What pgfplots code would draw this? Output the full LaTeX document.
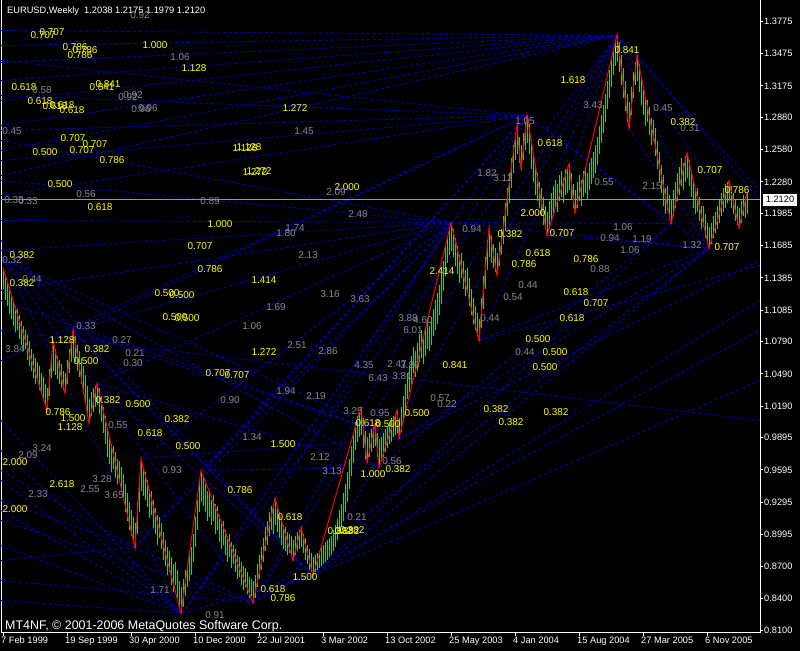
\documentclass[border=0pt]{standalone}
\usepackage{pgfplots}
\pgfplotsset{compat=1.18}
\usepackage{pgfplotstable}
\usepackage{fontspec}
\setmainfont{Liberation Sans}
\definecolor{barcol}{RGB}{50,205,50}
\definecolor{fibblue}{RGB}{0,0,195}
\definecolor{lblgray}{RGB}{135,135,155}
\definecolor{lblyel}{RGB}{255,255,0}
\definecolor{pline}{RGB}{150,150,150}

\pgfplotstableread{
w lo hi
0 1.128 1.148
1 1.118 1.142
2 1.112 1.135
3 1.105 1.130
4 1.100 1.122
5 1.094 1.118
6 1.088 1.112
7 1.090 1.110
8 1.082 1.104
9 1.076 1.098
10 1.070 1.094
11 1.072 1.090
12 1.062 1.085
13 1.056 1.080
14 1.052 1.072
15 1.045 1.068
16 1.040 1.064
17 1.042 1.060
18 1.034 1.056
19 1.030 1.050
20 1.024 1.046
21 1.020 1.040
22 1.015 1.036
23 1.028 1.054
24 1.045 1.068
25 1.052 1.080
26 1.048 1.072
27 1.044 1.066
28 1.040 1.062
29 1.036 1.058
30 1.034 1.052
31 1.031 1.050
32 1.040 1.062
33 1.050 1.072
34 1.060 1.082
35 1.064 1.090
36 1.060 1.084
37 1.052 1.076
38 1.046 1.070
39 1.040 1.064
40 1.030 1.056
41 1.022 1.048
42 1.012 1.038
43 1.003 1.026
44 1.010 1.032
45 1.014 1.036
46 1.018 1.038
47 1.020 1.040
48 1.012 1.036
49 1.004 1.028
50 0.994 1.018
51 0.984 1.010
52 0.972 0.998
53 0.965 0.988
54 0.958 0.984
55 0.960 0.982
56 0.952 0.976
57 0.946 0.970
58 0.948 0.968
59 0.940 0.962
60 0.932 0.956
61 0.920 0.946
62 0.912 0.938
63 0.904 0.930
64 0.898 0.922
65 0.892 0.916
66 0.887 0.910
67 0.900 0.930
68 0.920 0.952
69 0.940 0.970
70 0.935 0.962
71 0.932 0.958
72 0.925 0.950
73 0.915 0.942
74 0.918 0.940
75 0.905 0.932
76 0.900 0.924
77 0.890 0.918
78 0.896 0.916
79 0.886 0.910
80 0.876 0.902
81 0.870 0.894
82 0.862 0.888
83 0.864 0.884
84 0.852 0.878
85 0.846 0.872
86 0.852 0.874
87 0.840 0.866
88 0.832 0.856
89 0.826 0.850
90 0.832 0.858
91 0.842 0.866
92 0.850 0.872
93 0.856 0.880
94 0.862 0.888
95 0.874 0.900
96 0.888 0.916
97 0.904 0.932
98 0.920 0.948
99 0.930 0.959
100 0.926 0.952
101 0.920 0.946
102 0.912 0.940
103 0.916 0.938
104 0.908 0.932
105 0.912 0.936
106 0.900 0.928
107 0.904 0.926
108 0.892 0.918
109 0.886 0.910
110 0.890 0.912
111 0.880 0.904
112 0.874 0.898
113 0.878 0.900
114 0.868 0.892
115 0.872 0.890
116 0.864 0.886
117 0.858 0.880
118 0.860 0.878
119 0.852 0.874
120 0.848 0.870
121 0.850 0.868
122 0.844 0.864
123 0.840 0.860
124 0.842 0.858
125 0.836 0.856
126 0.840 0.862
127 0.850 0.872
128 0.858 0.880
129 0.866 0.888
130 0.874 0.896
131 0.884 0.906
132 0.890 0.912
133 0.898 0.920
134 0.904 0.926
135 0.900 0.924
136 0.908 0.933
137 0.902 0.926
138 0.896 0.920
139 0.890 0.914
140 0.886 0.908
141 0.884 0.906
142 0.880 0.902
143 0.882 0.900
144 0.878 0.898
145 0.875 0.894
146 0.880 0.898
147 0.884 0.902
148 0.886 0.904
149 0.888 0.906
150 0.882 0.900
151 0.876 0.896
152 0.872 0.890
153 0.866 0.886
154 0.864 0.882
155 0.861 0.878
156 0.864 0.880
157 0.866 0.882
158 0.868 0.884
159 0.870 0.888
160 0.872 0.890
161 0.874 0.892
162 0.876 0.894
163 0.878 0.896
164 0.880 0.898
165 0.884 0.904
166 0.888 0.908
167 0.894 0.914
168 0.900 0.922
169 0.906 0.928
170 0.912 0.938
171 0.920 0.946
172 0.930 0.958
173 0.942 0.970
174 0.954 0.982
175 0.966 0.994
176 0.978 1.004
177 0.986 1.010
178 0.990 1.014
179 0.992 1.018
180 0.980 1.008
181 0.970 0.996
182 0.966 0.990
183 0.972 0.994
184 0.976 0.998
185 0.980 1.000
186 0.982 1.003
187 0.972 0.994
188 0.962 0.988
189 0.968 0.990
190 0.972 0.994
191 0.976 0.998
192 0.980 1.000
193 0.984 1.004
194 0.986 1.008
195 0.990 1.010
196 0.992 1.012
197 0.994 1.015
198 0.989 1.008
199 0.995 1.018
200 1.004 1.028
201 1.014 1.040
202 1.026 1.050
203 1.032 1.056
204 1.040 1.066
205 1.050 1.074
206 1.046 1.070
207 1.052 1.078
208 1.060 1.086
209 1.064 1.090
210 1.058 1.082
211 1.066 1.092
212 1.072 1.098
213 1.070 1.094
214 1.076 1.102
215 1.084 1.110
216 1.090 1.118
217 1.096 1.124
218 1.104 1.132
219 1.114 1.142
220 1.126 1.154
221 1.140 1.168
222 1.152 1.178
223 1.160 1.186
224 1.164 1.190
225 1.158 1.184
226 1.150 1.176
227 1.142 1.168
228 1.134 1.160
229 1.138 1.162
230 1.128 1.154
231 1.122 1.146
232 1.124 1.148
233 1.112 1.138
234 1.104 1.128
235 1.096 1.120
236 1.090 1.112
237 1.084 1.106
238 1.080 1.100
239 1.092 1.120
240 1.110 1.140
241 1.128 1.158
242 1.146 1.174
243 1.158 1.185
244 1.152 1.178
245 1.148 1.170
246 1.144 1.166
247 1.141 1.162
248 1.150 1.172
249 1.160 1.184
250 1.170 1.196
251 1.182 1.208
252 1.196 1.222
253 1.208 1.236
254 1.222 1.250
255 1.236 1.262
256 1.248 1.274
257 1.254 1.281
258 1.246 1.270
259 1.239 1.262
260 1.248 1.274
261 1.258 1.284
262 1.264 1.290
263 1.254 1.282
264 1.240 1.268
265 1.228 1.256
266 1.216 1.244
267 1.210 1.236
268 1.204 1.228
269 1.196 1.222
270 1.188 1.214
271 1.184 1.206
272 1.178 1.200
273 1.186 1.210
274 1.192 1.218
275 1.196 1.224
276 1.204 1.230
277 1.200 1.226
278 1.210 1.234
279 1.214 1.238
280 1.208 1.232
281 1.216 1.240
282 1.218 1.242
283 1.220 1.245
284 1.212 1.236
285 1.204 1.226
286 1.199 1.220
287 1.204 1.228
288 1.210 1.234
289 1.206 1.230
290 1.214 1.238
291 1.218 1.242
292 1.212 1.236
293 1.220 1.246
294 1.226 1.250
295 1.232 1.256
296 1.236 1.262
297 1.244 1.270
298 1.254 1.280
299 1.264 1.290
300 1.274 1.300
301 1.284 1.310
302 1.296 1.322
303 1.306 1.332
304 1.316 1.342
305 1.328 1.352
306 1.336 1.360
307 1.340 1.365
308 1.330 1.358
309 1.318 1.346
310 1.306 1.334
311 1.294 1.322
312 1.284 1.310
313 1.278 1.302
314 1.290 1.316
315 1.306 1.330
316 1.318 1.340
317 1.322 1.346
318 1.312 1.338
319 1.300 1.326
320 1.290 1.314
321 1.280 1.306
322 1.284 1.304
323 1.272 1.298
324 1.262 1.288
325 1.266 1.286
326 1.252 1.278
327 1.240 1.266
328 1.228 1.256
329 1.218 1.244
330 1.206 1.234
331 1.198 1.222
332 1.202 1.224
333 1.194 1.216
334 1.189 1.212
335 1.196 1.220
336 1.204 1.228
337 1.210 1.236
338 1.216 1.242
339 1.224 1.250
340 1.220 1.246
341 1.228 1.252
342 1.232 1.255
343 1.224 1.248
344 1.214 1.238
345 1.204 1.228
346 1.198 1.220
347 1.200 1.222
348 1.192 1.214
349 1.184 1.206
350 1.186 1.206
351 1.176 1.198
352 1.170 1.190
353 1.166 1.186
354 1.170 1.190
355 1.176 1.196
356 1.180 1.200
357 1.184 1.206
358 1.190 1.212
359 1.196 1.218
360 1.200 1.222
361 1.204 1.226
362 1.208 1.228
363 1.210 1.229
364 1.204 1.224
365 1.198 1.218
366 1.192 1.212
367 1.188 1.206
368 1.185 1.204
369 1.190 1.210
370 1.196 1.216
371 1.194 1.214
372 1.198 1.2175
}\bars

\pgfplotsset{
  mt/.style={at={(1bp,18bp)}, anchor=south west, width=759bp, height=632bp, scale only axis},
  fib/.style={fibblue, dash pattern=on 3bp off 3bp, line width=0.9bp, mark=none},
}
\tikzset{
  yl/.style={text=lblyel, font=\fontsize{10}{12}\selectfont, inner sep=0pt},
  gl/.style={text=lblgray, font=\fontsize{10}{12}\selectfont, inner sep=0pt},
}

\begin{document}
\begin{tikzpicture}
\fill[black] (0,0) rectangle (800bp,650bp);

% ---------- layer A: dotted blue lines (pixel coordinates) ----------
\begin{axis}[mt, xmin=1, xmax=760, ymin=0, ymax=632, y dir=reverse,
  axis x line=none, axis y line*=left, axis line style={white, line width=1bp, -},
  xtick=\empty, ytick=\empty]
\addplot[fib] coordinates {(1,30) (617,35)};
\addplot[fib] coordinates {(1,45) (617,35)};
\addplot[fib] coordinates {(1,62) (617,35)};
\addplot[fib] coordinates {(1,80) (617,35)};
\addplot[fib] coordinates {(1,100) (617,35)};
\addplot[fib] coordinates {(1,125) (617,35)};
\addplot[fib] coordinates {(1,150) (617,35)};
\addplot[fib] coordinates {(1,175) (617,35)};
\addplot[fib] coordinates {(1,60) (527,115)};
\addplot[fib] coordinates {(1,95) (527,115)};
\addplot[fib] coordinates {(1,130) (527,115)};
\addplot[fib] coordinates {(1,160) (527,115)};
\addplot[fib] coordinates {(1,195) (527,115)};
\addplot[fib] coordinates {(1,140) (452,222)};
\addplot[fib] coordinates {(1,180) (452,222)};
\addplot[fib] coordinates {(1,220) (452,222)};
\addplot[fib] coordinates {(1,250) (452,222)};
\addplot[fib] coordinates {(1,290) (452,222)};
\addplot[fib] coordinates {(3,258) (313,575)};
\addplot[fib] coordinates {(3,258) (253,602)};
\addplot[fib] coordinates {(3,258) (182,613)};
\addplot[fib] coordinates {(3,258) (400,438)};
\addplot[fib] coordinates {(3,258) (380,467)};
\addplot[fib] coordinates {(73,330) (313,575)};
\addplot[fib] coordinates {(73,330) (400,438)};
\addplot[fib] coordinates {(97,383) (313,575)};
\addplot[fib] coordinates {(97,383) (380,467)};
\addplot[fib] coordinates {(135,547) (452,222)};
\addplot[fib] coordinates {(182,613) (452,222)};
\addplot[fib] coordinates {(182,613) (527,115)};
\addplot[fib] coordinates {(253,602) (527,115)};
\addplot[fib] coordinates {(253,602) (617,35)};
\addplot[fib] coordinates {(313,575) (617,35)};
\addplot[fib] coordinates {(135,547) (527,115)};
\addplot[fib] coordinates {(182,613) (617,35)};
\addplot[fib] coordinates {(1,420) (182,613)};
\addplot[fib] coordinates {(1,450) (182,613)};
\addplot[fib] coordinates {(1,480) (182,613)};
\addplot[fib] coordinates {(1,510) (182,613)};
\addplot[fib] coordinates {(1,545) (182,613)};
\addplot[fib] coordinates {(1,580) (253,602)};
\addplot[fib] coordinates {(1,560) (135,547)};
\addplot[fib] coordinates {(1,600) (182,613)};
\addplot[fib] coordinates {(1,520) (253,602)};
\addplot[fib] coordinates {(1,470) (135,547)};
\addplot[fib] coordinates {(1,500) (135,547)};
\addplot[fib] coordinates {(182,613) (313,575)};
\addplot[fib] coordinates {(135,547) (253,602)};
\addplot[fib] coordinates {(313,575) (671,223)};
\addplot[fib] coordinates {(313,575) (709,248)};
\addplot[fib] coordinates {(313,575) (760,300)};
\addplot[fib] coordinates {(313,575) (760,380)};
\addplot[fib] coordinates {(253,602) (709,248)};
\addplot[fib] coordinates {(253,602) (760,330)};
\addplot[fib] coordinates {(400,438) (709,248)};
\addplot[fib] coordinates {(400,438) (760,260)};
\addplot[fib] coordinates {(479,340) (709,248)};
\addplot[fib] coordinates {(479,340) (760,265)};
\addplot[fib] coordinates {(380,467) (671,223)};
\addplot[fib] coordinates {(617,35) (709,248)};
\addplot[fib] coordinates {(617,35) (739,228)};
\addplot[fib] coordinates {(617,35) (760,190)};
\addplot[fib] coordinates {(638,55) (760,200)};
\addplot[fib] coordinates {(527,115) (671,223)};
\addplot[fib] coordinates {(527,115) (709,248)};
\addplot[fib] coordinates {(452,222) (671,223)};
\addplot[fib] coordinates {(452,222) (709,248)};
\addplot[fib] coordinates {(548,235) (709,248)};
\addplot[fib] coordinates {(548,235) (617,35)};
\addplot[fib] coordinates {(479,340) (617,35)};
\addplot[fib] coordinates {(629,128) (709,248)};
\addplot[fib] coordinates {(1,330) (760,420)};
\addplot[fib] coordinates {(1,360) (527,115)};
\addplot[fib] coordinates {(1,300) (400,438)};
\addplot[fib] coordinates {(1,240) (313,575)};
\addplot[fib] coordinates {(97,383) (452,222)};
\addplot[fib] coordinates {(73,330) (452,222)};
\addplot[fib] coordinates {(53,340) (527,115)};
\addplot[fib] coordinates {(142,458) (452,222)};
\addplot[fib] coordinates {(202,470) (452,222)};
\addplot[fib] coordinates {(202,470) (527,115)};
\addplot[fib] coordinates {(142,458) (400,438)};
\addplot[fib] coordinates {(202,470) (380,467)};
\addplot[fib] coordinates {(275,498) (452,222)};
\end{axis}

% ---------- layer B: price bars ----------
\begin{axis}[mt, xmin=-1, xmax=378.5, ymin=0.80805, ymax=1.39707,
  axis x line*=bottom, axis y line*=right,
  axis line style={white, line width=1bp, -},
  tick style={white, line width=1bp}, tick align=outside, major tick length=3bp,
  xtick={0,32,64,96,128,160,192,224,256,288,320,352},
  xticklabels={7 Feb 1999,19 Sep 1999,30 Apr 2000,10 Dec 2000,22 Jul 2001,3 Mar 2002,13 Oct 2002,25 May 2003,4 Jan 2004,15 Aug 2004,27 Mar 2005,6 Nov 2005},
  ytick={1.3775,1.3475,1.3175,1.2880,1.2580,1.2280,1.1985,1.1685,1.1385,1.1085,1.0790,1.0490,1.0190,0.9895,0.9595,0.9295,0.8995,0.8700,0.8400,0.8100},
  yticklabels={1.3775,1.3475,1.3175,1.2880,1.2580,1.2280,1.1985,1.1685,1.1385,1.1085,1.0790,1.0490,1.0190,0.9895,0.9595,0.9295,0.8995,0.8700,0.8400,0.8100},
  ticklabel style={text=white, font=\fontsize{9.3}{11}\selectfont},
  xticklabel style={anchor=north west, inner sep=0pt, xshift=-2bp, yshift=-1bp},
  yticklabel style={anchor=west, inner sep=0pt, xshift=1bp}]
\addplot[draw=none, mark=none, forget plot,
  error bars/.cd, y dir=plus, y explicit, error mark=none,
  error bar style={draw=barcol, line width=1bp, solid}]
  table[x=w, y=lo, y error plus expr=\thisrow{hi}-\thisrow{lo}] {\bars};
\addplot[pline, line width=1bp, mark=none] coordinates {(-1,1.2120) (378.5,1.2120)};
\addplot[red, line width=1bp, mark=none] coordinates {
(0,1.148) (22,1.015) (25,1.080) (31,1.031) (35,1.090) (43,1.003) (47,1.040)
(66,0.887) (69,0.970) (89,0.826) (99,0.959) (125,0.836) (136,0.933) (145,0.875)
(149,0.906) (155,0.861) (179,1.018) (182,0.966) (186,1.003) (188,0.962) (197,1.015)
(198,0.989) (224,1.190) (238,1.080) (243,1.185) (247,1.141) (257,1.281) (259,1.239)
(262,1.290) (272,1.178) (283,1.245) (286,1.199) (307,1.365) (313,1.278) (317,1.346)
(334,1.189) (342,1.255) (353,1.166) (363,1.229) (368,1.185) (372,1.2175)};
\end{axis}

% ---------- layer C: labels (pixel coordinates) ----------
\begin{axis}[mt, xmin=1, xmax=760, ymin=0, ymax=632, y dir=reverse, hide axis, clip=false]
\node[anchor=west, text=white, font=\fontsize{9.3}{11}\selectfont, inner sep=0pt] at (axis cs:7,11) {EURUSD,Weekly\ \ 1.2038 1.2175 1.1979 1.2120};
\node[anchor=west, text=white, font=\fontsize{12.5}{14}\selectfont, inner sep=0pt] at (axis cs:5,626) {MT4NF, © 2001-2006 MetaQuotes Software Corp.};
\node[fill=white, text=black, font=\fontsize{9.3}{11}\selectfont, minimum width=34bp, minimum height=12bp, inner sep=0pt] at (axis cs:780,199) {1.2120};
% yellow labels
\node[yl] at (axis cs:43,35) {0.707};
\node[yl] at (axis cs:52,32) {0.707};
\node[yl] at (axis cs:75,47) {0.786};
\node[yl] at (axis cs:85,50) {0.786};
\node[yl] at (axis cs:80,55) {0.786};
\node[yl] at (axis cs:155,45) {1.000};
\node[yl] at (axis cs:194,68) {1.128};
\node[yl] at (axis cs:24,87) {0.618};
\node[yl] at (axis cs:102,87) {0.841};
\node[yl] at (axis cs:108,84) {0.841};
\node[yl] at (axis cs:40,101) {0.618};
\node[yl] at (axis cs:55,106) {0.618};
\node[yl] at (axis cs:62,105) {0.618};
\node[yl] at (axis cs:72,110) {0.618};
\node[yl] at (axis cs:295,108) {1.272};
\node[yl] at (axis cs:73,138) {0.707};
\node[yl] at (axis cs:95,144) {0.707};
\node[yl] at (axis cs:45,152) {0.500};
\node[yl] at (axis cs:82,150) {0.707};
\node[yl] at (axis cs:112,160) {0.786};
\node[yl] at (axis cs:245,148) {1.128};
\node[yl] at (axis cs:249,147) {1.128};
\node[yl] at (axis cs:255,172) {1.272};
\node[yl] at (axis cs:259,171) {1.272};
\node[yl] at (axis cs:60,184) {0.500};
\node[yl] at (axis cs:100,207) {0.618};
\node[yl] at (axis cs:347,187) {2.000};
\node[yl] at (axis cs:220,224) {1.000};
\node[yl] at (axis cs:200,246) {0.707};
\node[yl] at (axis cs:22,255) {0.382};
\node[yl] at (axis cs:22,283) {0.382};
\node[yl] at (axis cs:210,269) {0.786};
\node[yl] at (axis cs:264,280) {1.414};
\node[yl] at (axis cs:167,293) {0.500};
\node[yl] at (axis cs:182,295) {0.500};
\node[yl] at (axis cs:175,317) {0.500};
\node[yl] at (axis cs:187,318) {0.500};
\node[yl] at (axis cs:62,340) {1.128};
\node[yl] at (axis cs:97,349) {0.382};
\node[yl] at (axis cs:264,352) {1.272};
\node[yl] at (axis cs:86,361) {0.500};
\node[yl] at (axis cs:455,365) {0.841};
\node[yl] at (axis cs:218,373) {0.707};
\node[yl] at (axis cs:237,375) {0.707};
\node[yl] at (axis cs:108,400) {0.382};
\node[yl] at (axis cs:138,404) {0.500};
\node[yl] at (axis cs:496,409) {0.382};
\node[yl] at (axis cs:556,412) {0.382};
\node[yl] at (axis cs:511,422) {0.382};
\node[yl] at (axis cs:417,413) {0.500};
\node[yl] at (axis cs:368,423) {0.618};
\node[yl] at (axis cs:388,424) {0.500};
\node[yl] at (axis cs:58,412) {0.786};
\node[yl] at (axis cs:73,418) {1.500};
\node[yl] at (axis cs:70,427) {1.128};
\node[yl] at (axis cs:177,419) {0.382};
\node[yl] at (axis cs:150,433) {0.618};
\node[yl] at (axis cs:188,446) {0.500};
\node[yl] at (axis cs:283,444) {1.500};
\node[yl] at (axis cs:398,469) {0.382};
\node[yl] at (axis cs:373,474) {1.000};
\node[yl] at (axis cs:240,490) {0.786};
\node[yl] at (axis cs:15,462) {2.000};
\node[yl] at (axis cs:62,484) {2.618};
\node[yl] at (axis cs:15,509) {2.000};
\node[yl] at (axis cs:290,517) {0.618};
\node[yl] at (axis cs:340,531) {0.382};
\node[yl] at (axis cs:347,531) {0.382};
\node[yl] at (axis cs:352,530) {0.382};
\node[yl] at (axis cs:305,577) {1.500};
\node[yl] at (axis cs:273,589) {0.618};
\node[yl] at (axis cs:283,598) {0.786};
\node[yl] at (axis cs:550,143) {0.618};
\node[yl] at (axis cs:533,213) {2.000};
\node[yl] at (axis cs:562,233) {0.707};
\node[yl] at (axis cs:510,234) {0.382};
\node[yl] at (axis cs:538,253) {0.618};
\node[yl] at (axis cs:524,264) {0.786};
\node[yl] at (axis cs:586,259) {0.786};
\node[yl] at (axis cs:442,271) {2.414};
\node[yl] at (axis cs:576,292) {0.618};
\node[yl] at (axis cs:596,303) {0.707};
\node[yl] at (axis cs:572,318) {0.618};
\node[yl] at (axis cs:538,339) {0.500};
\node[yl] at (axis cs:555,352) {0.500};
\node[yl] at (axis cs:545,367) {0.500};
\node[yl] at (axis cs:573,80) {1.618};
\node[yl] at (axis cs:627,50) {0.841};
\node[yl] at (axis cs:683,122) {0.382};
\node[yl] at (axis cs:710,170) {0.707};
\node[yl] at (axis cs:737,190) {0.786};
\node[yl] at (axis cs:727,247) {0.707};
% grey labels
\node[gl] at (axis cs:140,15) {0.92};
\node[gl] at (axis cs:180,57) {1.06};
\node[gl] at (axis cs:42,90) {0.58};
\node[gl] at (axis cs:128,97) {0.92};
\node[gl] at (axis cs:133,95) {0.92};
\node[gl] at (axis cs:141,109) {0.96};
\node[gl] at (axis cs:148,108) {0.96};
\node[gl] at (axis cs:304,131) {1.45};
\node[gl] at (axis cs:12,131) {0.45};
\node[gl] at (axis cs:86,194) {0.56};
\node[gl] at (axis cs:14,200) {0.33};
\node[gl] at (axis cs:28,201) {0.33};
\node[gl] at (axis cs:210,201) {0.89};
\node[gl] at (axis cs:336,192) {2.09};
\node[gl] at (axis cs:358,214) {2.48};
\node[gl] at (axis cs:295,228) {1.74};
\node[gl] at (axis cs:286,233) {1.80};
\node[gl] at (axis cs:308,255) {2.13};
\node[gl] at (axis cs:12,260) {0.32};
\node[gl] at (axis cs:32,279) {0.44};
\node[gl] at (axis cs:330,294) {3.16};
\node[gl] at (axis cs:360,299) {3.63};
\node[gl] at (axis cs:276,307) {1.69};
\node[gl] at (axis cs:86,326) {0.33};
\node[gl] at (axis cs:252,326) {1.06};
\node[gl] at (axis cs:408,318) {3.88};
\node[gl] at (axis cs:423,320) {4.60};
\node[gl] at (axis cs:413,330) {6.01};
\node[gl] at (axis cs:122,340) {0.27};
\node[gl] at (axis cs:297,345) {2.51};
\node[gl] at (axis cs:15,349) {3.84};
\node[gl] at (axis cs:328,351) {2.86};
\node[gl] at (axis cs:135,353) {0.21};
\node[gl] at (axis cs:133,363) {0.30};
\node[gl] at (axis cs:364,365) {4.35};
\node[gl] at (axis cs:397,364) {2.47};
\node[gl] at (axis cs:410,365) {3.80};
\node[gl] at (axis cs:378,378) {6.43};
\node[gl] at (axis cs:402,376) {3.81};
\node[gl] at (axis cs:286,391) {1.94};
\node[gl] at (axis cs:316,396) {2.19};
\node[gl] at (axis cs:230,400) {0.90};
\node[gl] at (axis cs:440,398) {0.57};
\node[gl] at (axis cs:447,404) {0.22};
\node[gl] at (axis cs:353,411) {3.25};
\node[gl] at (axis cs:380,413) {0.95};
\node[gl] at (axis cs:118,425) {0.55};
\node[gl] at (axis cs:252,437) {1.34};
\node[gl] at (axis cs:320,457) {2.12};
\node[gl] at (axis cs:392,461) {0.56};
\node[gl] at (axis cs:332,471) {3.13};
\node[gl] at (axis cs:172,470) {0.93};
\node[gl] at (axis cs:42,448) {3.24};
\node[gl] at (axis cs:28,455) {2.09};
\node[gl] at (axis cs:38,494) {2.33};
\node[gl] at (axis cs:90,489) {2.55};
\node[gl] at (axis cs:102,479) {3.28};
\node[gl] at (axis cs:114,495) {3.65};
\node[gl] at (axis cs:357,517) {0.21};
\node[gl] at (axis cs:160,590) {1.71};
\node[gl] at (axis cs:215,615) {0.91};
\node[gl] at (axis cs:525,121) {1.05};
\node[gl] at (axis cs:487,173) {1.82};
\node[gl] at (axis cs:503,178) {3.12};
\node[gl] at (axis cs:472,229) {0.94};
\node[gl] at (axis cs:600,269) {0.88};
\node[gl] at (axis cs:528,285) {0.44};
\node[gl] at (axis cs:513,297) {0.54};
\node[gl] at (axis cs:490,318) {0.44};
\node[gl] at (axis cs:525,352) {0.44};
\node[gl] at (axis cs:593,105) {3.43};
\node[gl] at (axis cs:663,108) {0.45};
\node[gl] at (axis cs:690,128) {0.31};
\node[gl] at (axis cs:604,182) {0.55};
\node[gl] at (axis cs:652,186) {2.15};
\node[gl] at (axis cs:623,227) {1.06};
\node[gl] at (axis cs:610,238) {0.94};
\node[gl] at (axis cs:642,239) {1.19};
\node[gl] at (axis cs:630,250) {1.06};
\node[gl] at (axis cs:692,245) {1.32};
\end{axis}
\end{tikzpicture}
\end{document}
